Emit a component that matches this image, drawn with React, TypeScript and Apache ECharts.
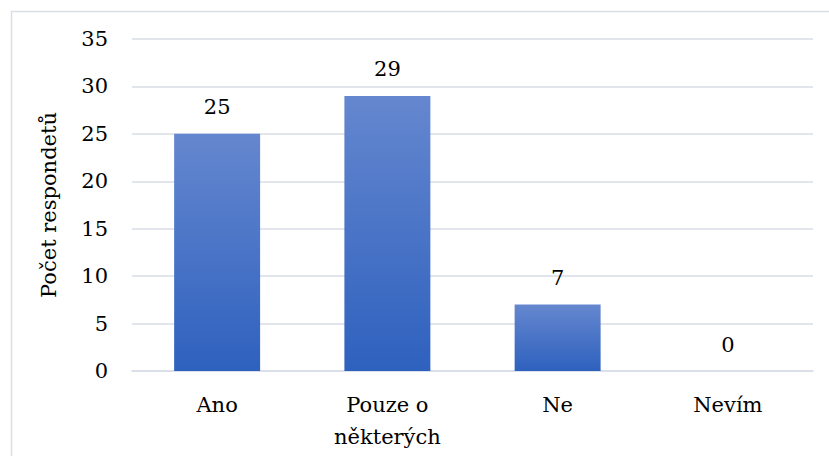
import React, { useEffect, useRef } from "react";
import * as echarts from "echarts";

const categories = ["Ano", "Pouze o\nněkterých", "Ne", "Nevím"];
const values = [25, 29, 7, 0];
const yAxisName = "Počet respondetů";

export default function App() {
  const ref = useRef<HTMLDivElement>(null);
  useEffect(() => {
    document.body.style.margin = "0";
    const chart = echarts.init(ref.current!, null, { renderer: "svg" });
    const font = "DejaVu Serif";
    const size = 21;
    chart.setOption({
      animation: false,
      backgroundColor: "#ffffff",
      textStyle: { fontFamily: font },
      graphic: [
        {
          type: "rect",
          shape: { x: 11.5, y: 11.5, width: 850, height: 500 },
          style: { fill: "none", stroke: "#d9dde6", lineWidth: 1.5 },
          silent: true,
        },
      ],
      grid: { left: 132, right: 16, top: 39, bottom: 85, containLabel: false },
      xAxis: {
        type: "category",
        data: categories,
        axisLine: { show: true, lineStyle: { color: "#d9dde6", width: 1.5 } },
        axisTick: { show: false },
        axisLabel: {
          color: "#000",
          fontFamily: font,
          fontSize: size,
          lineHeight: 32,
          margin: 18,
        },
      },
      yAxis: {
        type: "value",
        min: 0,
        max: 35,
        interval: 5,
        name: yAxisName,
        nameLocation: "middle",
        nameRotate: 90,
        nameGap: 73,
        nameTextStyle: { color: "#000", fontFamily: font, fontSize: size },
        axisLine: { show: false },
        axisTick: { show: false },
        splitLine: { lineStyle: { color: "#d9dde6", width: 1.5 } },
        axisLabel: { color: "#000", fontFamily: font, fontSize: size, margin: 24 },
      },
      series: [
        {
          type: "bar",
          data: values,
          barWidth: "50.5%",
          itemStyle: {
            color: new echarts.graphic.LinearGradient(0, 0, 0, 1, [
              { offset: 0, color: "#6587cf" },
              { offset: 1, color: "#2e61be" },
            ]),
          },
          label: {
            show: true,
            position: "top",
            distance: 16,
            color: "#000",
            fontFamily: font,
            fontSize: size,
          },
        },
      ],
    });
    return () => chart.dispose();
  }, []);
  return <div ref={ref} style={{ width: 829, height: 456 }} />;
}
